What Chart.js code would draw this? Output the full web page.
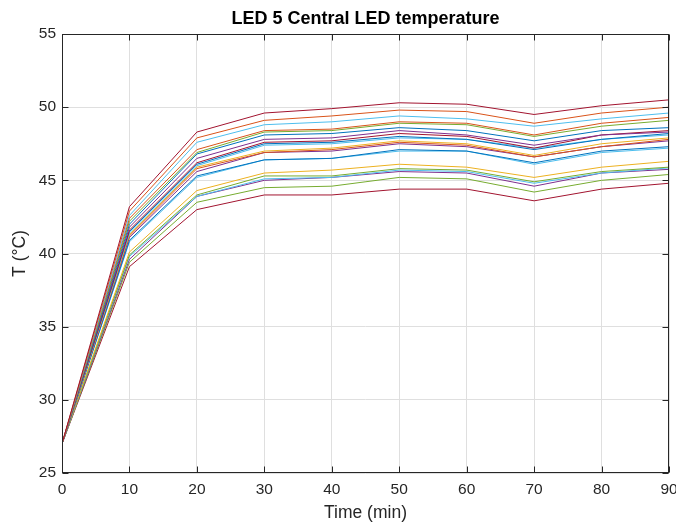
<!DOCTYPE html>
<html><head><meta charset="utf-8">
<script src="https://cdn.jsdelivr.net/npm/chart.js@4.4.1/dist/chart.umd.min.js"></script>
<style>html,body{margin:0;padding:0;background:#fff;}#wrap{width:676px;height:526px;}</style>
</head><body><div id="wrap"><canvas id="c" width="676" height="526"></canvas></div>
<script>
const times = [0, 10, 20, 30, 40, 50, 60, 70, 80, 90];
const xTickValues = [0, 10, 20, 30, 40, 50, 60, 70, 80, 90];
const yTickValues = [25, 30, 35, 40, 45, 50, 55];

const s01 = [27.0, 43.2, 48.3, 49.6, 49.9, 50.3, 50.2, 49.5, 50.1, 50.5];
const s02 = [27.0, 42.9, 47.9, 49.1, 49.4, 49.8, 49.7, 48.9, 49.6, 50.0];
const s03 = [27.0, 42.6, 47.6, 48.8, 49.0, 49.4, 49.2, 48.7, 49.2, 49.6];
const s04 = [27.0, 42.4, 47.1, 48.4, 48.5, 49.0, 48.9, 48.1, 48.9, 49.3];
const s05 = [27.0, 42.2, 46.9, 48.3, 48.4, 48.9, 48.8, 48.0, 48.7, 49.1];
const s06 = [27.0, 42.0, 46.8, 48.1, 48.2, 48.6, 48.4, 47.7, 48.4, 48.6];
const s07 = [27.0, 41.8, 46.5, 47.8, 47.9, 48.4, 48.1, 47.4, 48.1, 48.3];
const s08 = [27.0, 41.6, 46.2, 47.6, 47.7, 48.2, 48.0, 47.2, 48.1, 48.4];
const s09 = [27.0, 41.5, 46.1, 47.5, 47.6, 48.0, 47.8, 47.1, 47.8, 48.2];
const s10 = [27.0, 41.4, 46.0, 47.4, 47.5, 47.9, 47.8, 47.2, 47.8, 48.1];
const s11 = [27.0, 41.3, 45.9, 47.0, 47.2, 47.7, 47.5, 46.7, 47.5, 47.9];
const s12 = [27.0, 41.2, 45.8, 46.9, 47.1, 47.6, 47.4, 46.6, 47.3, 47.8];
const s13 = [27.0, 41.1, 45.6, 46.9, 47.0, 47.5, 47.3, 46.6, 47.3, 47.7];
const s14 = [27.0, 40.9, 45.3, 46.4, 46.5, 47.1, 47.0, 46.2, 47.0, 47.3];
const s15 = [27.0, 40.8, 45.2, 46.4, 46.5, 47.0, 47.0, 46.1, 46.9, 47.2];
const s16 = [27.0, 40.1, 44.3, 45.5, 45.7, 46.1, 45.9, 45.2, 45.9, 46.3];
const s17 = [27.0, 39.9, 44.0, 45.3, 45.3, 45.8, 45.7, 44.9, 45.6, 45.9];
const s18 = [27.0, 39.8, 43.9, 45.1, 45.2, 45.7, 45.6, 44.8, 45.5, 45.85];
const s19 = [27.0, 39.6, 43.9, 45.0, 45.2, 45.6, 45.5, 44.6, 45.5, 45.75];
const s20 = [27.0, 39.4, 43.5, 44.5, 44.6, 45.2, 45.1, 44.2, 45.0, 45.4];
const s21 = [27.0, 39.1, 43.0, 44.0, 44.0, 44.4, 44.4, 43.6, 44.4, 44.8];

const seriesList = [s01,s02,s03,s04,s05,s06,s07,s08,s09,s10,s11,s12,s13,s14,s15,s16,s17,s18,s19,s20,s21];

const BLUE='#0072BD', ORANGE='#D95319', YELLOW='#EDB120', PURPLE='#7E2F8E', GREEN='#77AC30', CYAN='#4DBEEE', RED='#A2142F';
const seriesColors = [RED,ORANGE,CYAN,ORANGE,GREEN,BLUE,PURPLE,RED,BLUE,CYAN,YELLOW,ORANGE,PURPLE,BLUE,CYAN,YELLOW,GREEN,CYAN,PURPLE,GREEN,RED];

const FONT = '"Liberation Sans", Arial, Helvetica, sans-serif';
const AXC = '#262626';

const datasets = seriesList.map((s, i) => ({
  label: 'Series ' + (i + 1),
  data: times.map((t, j) => ({x: t, y: s[j]})),
  borderColor: seriesColors[i],
  backgroundColor: seriesColors[i],
  borderWidth: 1,
  pointRadius: 0,
  tension: 0,
  fill: false
}));

const boxPlugin = {
  id: 'matlabBox',
  afterDatasetsDraw(chart) {
    const {ctx, chartArea: a, scales: {x, y}} = chart;
    ctx.save();
    ctx.strokeStyle = AXC;
    ctx.lineWidth = 1;
    const L = Math.round(a.left) + 0.5, R = Math.round(a.right) - 0.5;
    const T = Math.round(a.top) + 0.5, B = Math.round(a.bottom) - 0.5;
    ctx.strokeRect(L, T, R - L, B - T);
    const tl = 6;
    ctx.beginPath();
    xTickValues.forEach(v => {
      const px = Math.round(x.getPixelForValue(v)) + 0.5;
      ctx.moveTo(px, B); ctx.lineTo(px, B - tl);
      ctx.moveTo(px, T); ctx.lineTo(px, T + tl);
    });
    yTickValues.forEach(v => {
      const py = Math.round(y.getPixelForValue(v)) + 0.5;
      ctx.moveTo(L, py); ctx.lineTo(L + tl, py);
      ctx.moveTo(R, py); ctx.lineTo(R - tl, py);
    });
    ctx.stroke();
    ctx.restore();
  }
};

new Chart(document.getElementById('c'), {
  type: 'line',
  data: {datasets},
  options: {
    responsive: false,
    devicePixelRatio: 1,
    animation: false,
    events: [],
    layout: {padding: {left: 0, right: 7, top: 0, bottom: 0}},
    plugins: {
      legend: {display: false},
      tooltip: {enabled: false},
      title: {
        display: true,
        text: 'LED 5 Central LED temperature',
        fullSize: false,
        color: '#000',
        font: {family: FONT, size: 18, weight: 'bold', lineHeight: 1.2},
        padding: {top: 8, bottom: 4.4}
      }
    },
    scales: {
      x: {
        type: 'linear',
        min: 0, max: 90,
        afterBuildTicks(scale) { scale.ticks = xTickValues.map(v => ({value: v})); },
        afterFit(scale) { scale.height = 53; scale.paddingLeft = 0; scale.paddingRight = 0; },
        ticks: {color: AXC, font: {family: FONT, size: 15.5}, padding: 7, maxRotation: 0, autoSkip: false},
        grid: {color: '#dfdfdf', drawTicks: false, lineWidth: 1},
        border: {display: false},
        title: {display: true, text: 'Time (min)', color: AXC, font: {family: FONT, size: 17.5}, padding: {top: 0, bottom: 2}}
      },
      y: {
        type: 'linear',
        min: 25, max: 55,
        afterBuildTicks(scale) { scale.ticks = yTickValues.map(v => ({value: v})); },
        afterFit(scale) { scale.width = 62; scale.paddingTop = 0; scale.paddingBottom = 0; },
        ticks: {color: AXC, font: {family: FONT, size: 15.5}, padding: 6, autoSkip: false},
        grid: {color: '#dfdfdf', drawTicks: false, lineWidth: 1},
        border: {display: false},
        title: {display: true, text: 'T (°C)', color: AXC, font: {family: FONT, size: 17.5}, padding: {top: 10, bottom: 0}}
      }
    }
  },
  plugins: [boxPlugin]
});
</script>
</body></html>
